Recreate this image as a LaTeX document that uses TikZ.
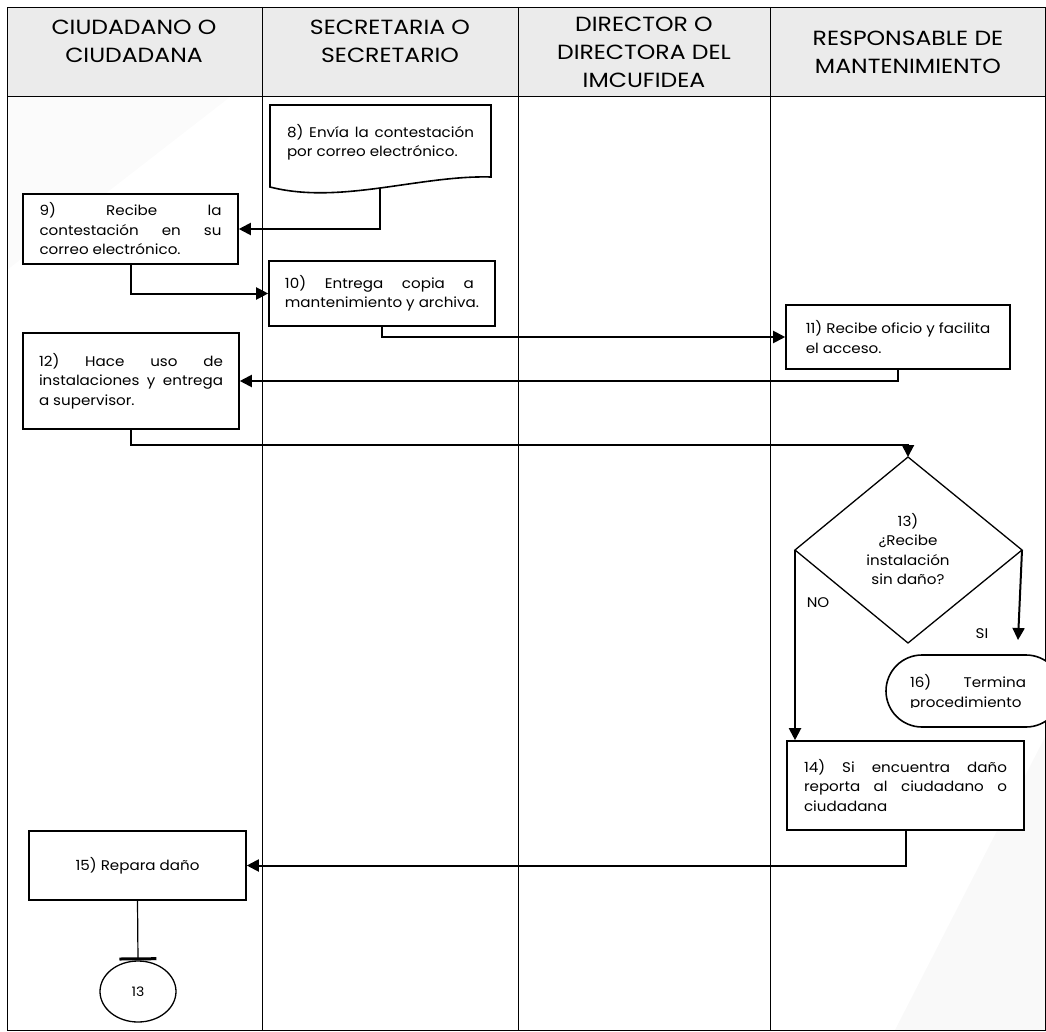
\documentclass[tikz,border=0pt]{standalone}
\usepackage{fontspec}
\setmainfont{Poppins}[FakeStretch=1.08]
\newfontfamily\hdrfont{Poppins}[FakeStretch=1.15]
\usetikzlibrary{arrows.meta,shapes.geometric}
\begin{document}
\begin{tikzpicture}[x=1pt,y=-1pt,
  lane/.style={line width=0.8pt},
  hdr/.style={font=\hdrfont\fontsize{20.5}{28}\selectfont, align=center, inner sep=0pt},
  proc/.style={draw, line width=1.6pt, fill=white, font=\fontsize{14}{19.5}\selectfont, align=left, inner sep=0pt},
  conn/.style={line width=2pt, -{Triangle[length=12pt,width=12pt]}},
  lbl/.style={font=\fontsize{14}{19.5}\selectfont, inner sep=0pt},
]
\useasboundingbox (0,0) rectangle (1046,1032);
\clip (0,0) rectangle (1046,1032);

% faint backdrop shading
\fill[black!1.5] (7,270) -- (230,97) -- (7,97) -- cycle;
\fill[black!2.5] (895,1030) -- (1046,735) -- (1046,1030) -- cycle;

% header band and swimlanes
\fill[black!8] (7,7) rectangle (1045,96);
\draw[lane] (7,7) rectangle (1045,1030);
\draw[lane] (7,96) -- (1045,96);
\foreach \x in {262,518,770} \draw[lane] (\x,7) -- (\x,1030);

\node[hdr] (h1) at (134,41.5) {CIUDADANO O\\CIUDADANA};
\node[hdr] (h2) at (390,41.5) {SECRETARIA O\\SECRETARIO};
\node[hdr] (h3) at (644,52) {DIRECTOR O\\DIRECTORA DEL\\IMCUFIDEA};
\node[hdr] (h4) at (908,52) {RESPONSABLE DE\\MANTENIMIENTO};

% step 8: document shape
\draw[line width=1.6pt, fill=white] (270,105) -- (491,105) -- (491,177)
  .. controls (420,175) and (340,205) .. (270,187) -- cycle;
\coordinate (d8b) at (380,188.5);
\node[lbl, align=left] (t8) at (380.5,142.5)
  {\makebox[187pt][s]{8) Envía la contestación}\\por correo electrónico.};

% process boxes
\node[proc, minimum width=215pt, minimum height=70pt] (b9) at (130.5,229)
  {\makebox[182pt][s]{9) Recibe la}\\\makebox[182pt][s]{contestación en su}\\correo electrónico.};
\node[proc, minimum width=226pt, minimum height=65pt] (b10) at (382,293.5)
  {\makebox[189pt][s]{10) Entrega copia a}\\mantenimiento y archiva.};
\node[proc, minimum width=224pt, minimum height=64pt] (b11) at (898,337)
  {11) Recibe oficio y facilita\\el acceso.};
\node[proc, minimum width=216pt, minimum height=96pt] (b12) at (131,381)
  {\makebox[184pt][s]{12) Hace uso de}\\\makebox[184pt][s]{instalaciones y entrega}\\a supervisor.};
\node[proc, minimum width=237pt, minimum height=89pt] (b14) at (905.5,785.5)
  {\makebox[203pt][s]{14) Si encuentra daño}\\\makebox[203pt][s]{reporta al ciudadano o}\\ciudadana};
\node[proc, minimum width=217pt, minimum height=69pt] (b15) at (137.5,865.5)
  {15) Repara daño};

% decision 13
\coordinate (d13t) at (908,457);
\coordinate (d13l) at (795,550);
\coordinate (d13r) at (1022,550);
\coordinate (d13b) at (908,643);
\draw[line width=1.3pt, fill=white] (d13t) -- (d13r) -- (d13b) -- (d13l) -- cycle;
\node[lbl, align=center] (t13) at (908,549) {13)\\¿Recibe\\instalación\\sin daño?};

% terminator 16
\node[draw, line width=1.6pt, fill=white, rounded corners=36pt,
      minimum width=176pt, minimum height=72pt] (t16) at (974,691) {};
\begin{scope}
  \clip (886,655) rectangle (1046,707);
  \node[lbl, align=left] (t16x) at (968,693)
    {\makebox[116pt][s]{16) Termina}\\procedimiento};
\end{scope}

% off-page connector 13
\node[draw, ellipse, line width=1.3pt, minimum width=76pt, minimum height=61pt,
      inner sep=0pt, font=\fontsize{13}{15}\selectfont] (c13) at (138,991.5) {13};

% flow
\draw[conn] (d8b) |- (b9.east);
\draw[conn] (b9.south) |- (b10.west);
\draw[conn] (b10.south) |- (b11.west);
\draw[conn] (b11.south) |- (b12.east);
\draw[conn] (b12.south) -- ++(0,15) -| (d13t);
\coordinate (siend) at (1018,640);
\draw[conn] (d13r) -- (siend);
\draw[conn] (d13l) -- (d13l |- b14.north);
\draw[conn] (b14.south) |- (b15.east);
\draw[line width=1.2pt, -{Bar[width=37pt,line width=3pt]}] (b15.south) -- (c13.north);

\node[lbl] (no) at (818,603) {NO};
\node[lbl] (si) at (982,634) {SI};
\end{tikzpicture}
\end{document}
